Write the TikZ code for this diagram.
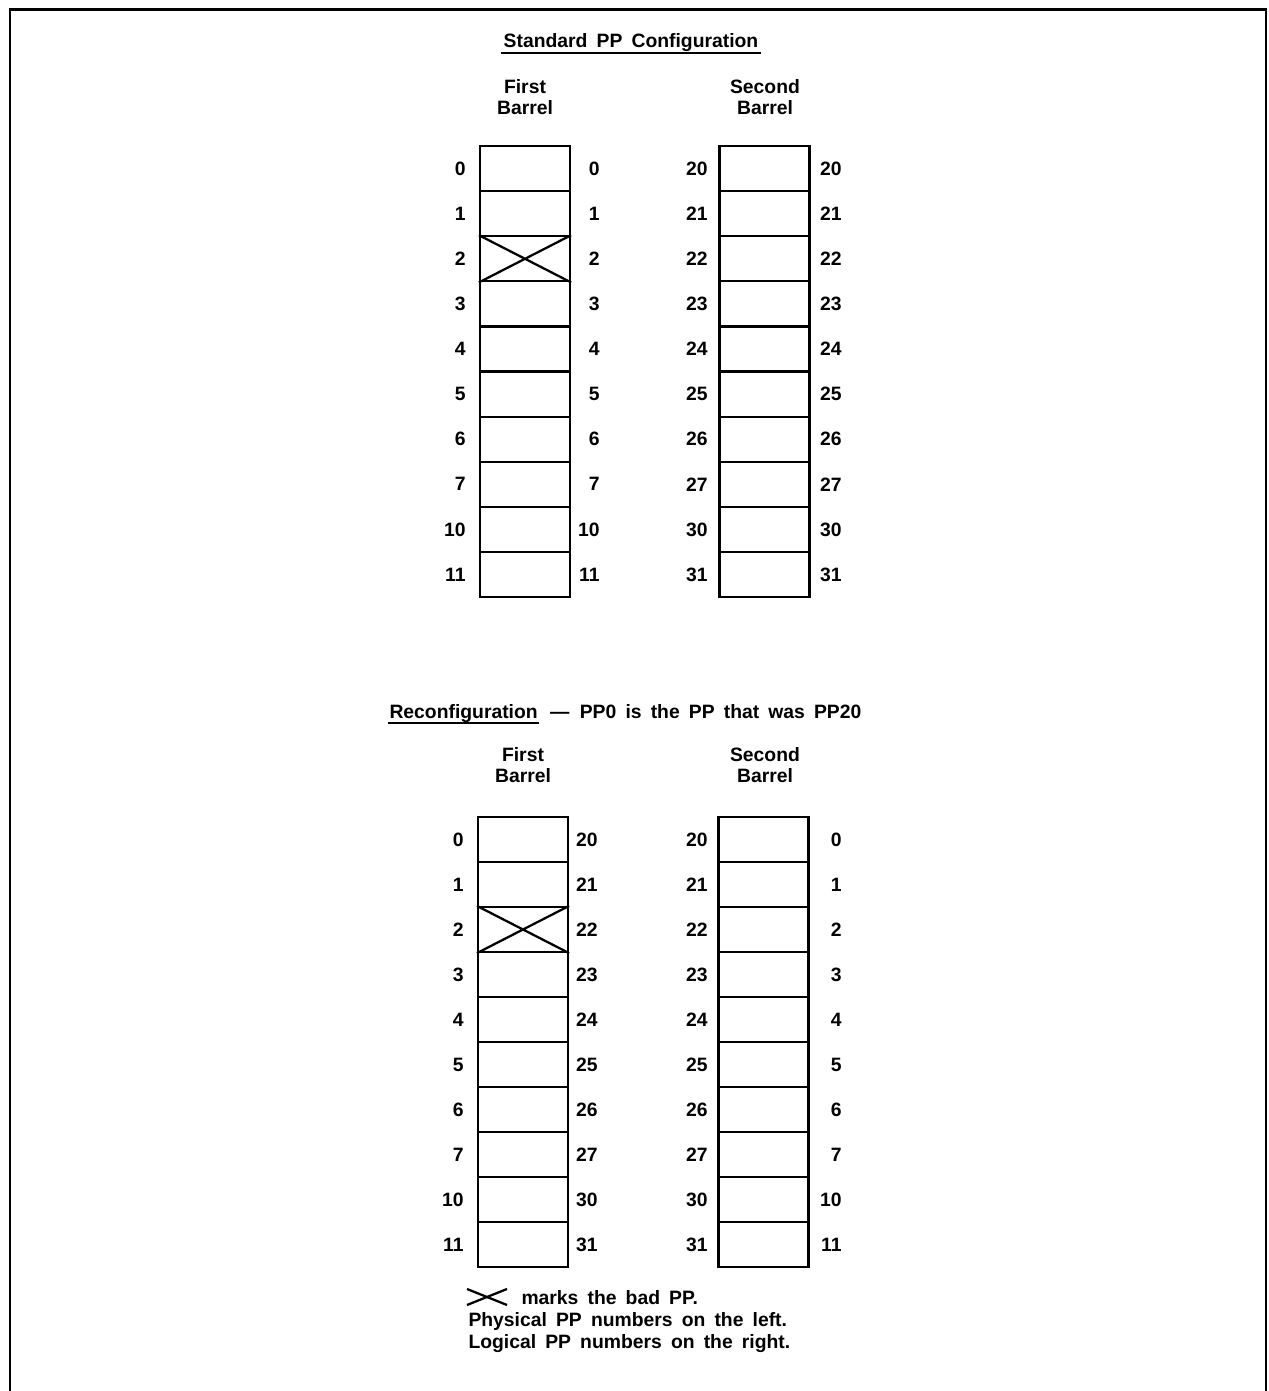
\documentclass[tikz,border=0pt]{standalone}
\usepackage{fontspec}
\setmainfont{Liberation Sans}[WordSpace=1.7]
\newcommand{\ppfont}{\fontsize{14.5pt}{15.8pt}\selectfont\bfseries}
\tikzset{every picture/.style={line width=0.75pt}}
\tikzset{
  cell/.style={draw, line width=1.6pt, minimum width=67.5pt, minimum height=33.8pt, inner sep=0pt},
  num/.style={anchor=east, inner sep=0.75pt, font=\ppfont},
  head/.style={align=center, inner sep=0.75pt, font=\ppfont},
  txt/.style={anchor=base west, inner sep=0.75pt, font=\ppfont},
  uline/.style={line width=1.7pt},
  frame/.style={line width=2.2pt}
}

\begin{document}
\begin{tikzpicture}[x=0.75pt,y=0.75pt,yscale=-1,xscale=1]
\useasboundingbox (0,0) rectangle (1269,1391);

%Frame (open at the bottom)
\draw [frame] (10,1391) -- (10,9.5) -- (1266,9.5) -- (1266,1391) ;

% Title
\node [anchor=base, inner sep=0.75pt, font=\ppfont] (ttl) at (631,48) {Standard PP Configuration};
\draw [uline] ([xshift=-1pt,yshift=3.5pt]ttl.base west) -- ([xshift=1pt,yshift=3.5pt]ttl.base east) ;

% Barrel heads
\node [head] (fhead) at (525,97) {First\\Barrel};
\node [head] (shead) at (765,97) {Second\\Barrel};

%Standard barrels
\foreach \i/\p/\q in {0/0/20,1/1/21,2/2/22,3/3/23,4/4/24,5/5/25,6/6/26,7/7/27,8/10/30,9/11/31}{
  \node [cell] (fa\i) at (525,{168.6+45.1*\i}) {};
  \node [num] (fal\i) at (467,{168.6+45.1*\i}) {\p};
  \node [num] (far\i) at (601,{168.6+45.1*\i}) {\p};
  \node [cell] (sa\i) at (764.5,{168.6+45.1*\i}) {};
  \node [num] (sal\i) at (709,{168.6+45.1*\i}) {\q};
  \node [num] (sar\i) at (843,{168.6+45.1*\i}) {\q};
}
\draw [uline] (fa2.north west) -- (fa2.south east) (fa2.south west) -- (fa2.north east) ;

% Reconfiguration title
\node [txt] (recon) at (388,718) {Reconfiguration};
\node [txt] (reconnote) at ([xshift=7pt]recon.base east) {—\ \kern1pt PP0 is the PP that was PP20};
\draw [uline] ([yshift=4pt]recon.base west) -- ([yshift=4pt]recon.base east) ;

\node [head] (fhead2) at (523,765) {First\\Barrel};
\node [head] (shead2) at (765,765) {Second\\Barrel};

%Reconfigured barrels
\foreach \i/\p/\q in {0/0/20,1/1/21,2/2/22,3/3/23,4/4/24,5/5/25,6/6/26,7/7/27,8/10/30,9/11/31}{
  \node [cell] (fb\i) at (523,{839.5+45*\i}) {};
  \node [num] (fbl\i) at (465,{839.5+45*\i}) {\p};
  \node [num] (fbr\i) at (599,{839.5+45*\i}) {\q};
  \node [cell] (sb\i) at (763.5,{839.5+45*\i}) {};
  \node [num] (sbl\i) at (709,{839.5+45*\i}) {\q};
  \node [num] (sbr\i) at (843,{839.5+45*\i}) {\p};
}
\draw [uline] (fb2.north west) -- (fb2.south east) (fb2.south west) -- (fb2.north east) ;

% Legend
\coordinate (mka) at (467,1289);
\coordinate (mkb) at (507,1305);
\coordinate (mkc) at (467,1305);
\coordinate (mkd) at (507,1289);
\draw [uline] (mka) -- (mkb) (mkc) -- (mkd) ;
\node [txt] (leg1) at (520,1304) {marks the bad PP.};
\node [txt] (leg2) at (467,1326) {Physical PP numbers on the left.};
\node [txt] (leg3) at (467,1348) {Logical PP numbers on the right.};

\end{tikzpicture}
\end{document}
